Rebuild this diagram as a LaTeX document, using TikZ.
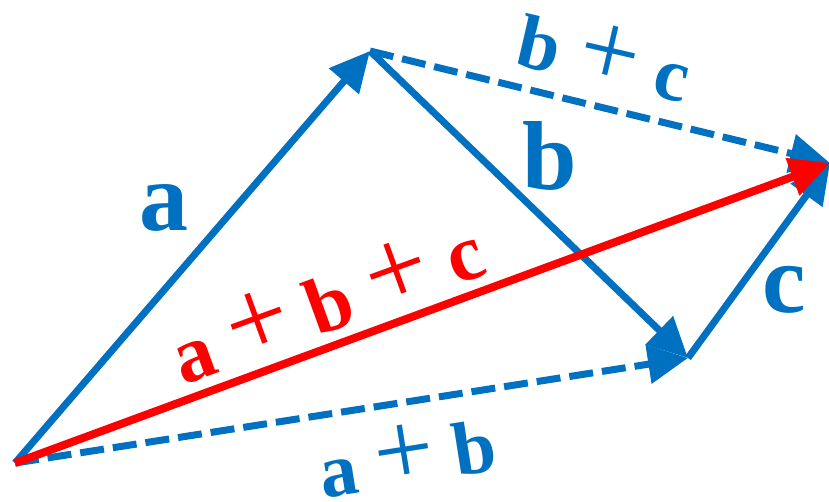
\documentclass[tikz,border=0pt]{standalone}
\usepackage{fontspec}
\setmainfont{Liberation Serif}
\usetikzlibrary{arrows.meta}
\definecolor{vecblue}{RGB}{0, 112, 192}
\definecolor{vecred}{RGB}{255, 0, 0}
\newcommand{\vplus}{~\scalebox{1.4}{+}~}

\tikzset{
  vec/.style={line width=7pt, draw=vecblue, -{Triangle[length=40pt, width=38pt]}},
  sumvec/.style={vec, dash pattern=on 24pt off 9pt},
  redvec/.style={vec, draw=vecred, line width=8pt},
  veclabel/.style={text=vecblue, font=\fontsize{98}{98}\selectfont\bfseries},
  sumlabel/.style={text=vecblue, font=\fontsize{76}{76}\selectfont}
}

\begin{document}
\begin{tikzpicture}[x=1pt, y=-1pt]
                    \useasboundingbox (0,0) rectangle (829,501);
                    % Points
                    \coordinate (O) at (15,463);
                    \coordinate (A) at (370,51);
                    \coordinate (B) at (688,358);
                    \coordinate (C) at (830,163);
                    
                    % Sums (dashed)
                    \draw[sumvec] (O) -- (B);
                    \draw[sumvec] (A) -- (C);
                    
                    % Single vectors
                    \draw[vec] (O) -- (A);
                    \draw[vec] (A) -- (B);
                    \draw[vec] (B) -- (C);
                    
                    % Total
                    \draw[redvec] (O) -- (C);
                    
                    % Labels
                    \node[veclabel] (la) at (164,208) {a};
                    \node[veclabel] (lb) at (550,156) {b};
                    \node[veclabel] (lc) at (784,290) {c};
                    \node[sumlabel, rotate=-13] (lbc) at (605,55) {\textbf{b}\vplus\textbf{c}};
                    \node[sumlabel, rotate=9] (lab) at (407,455) {\textbf{a}\vplus\textbf{b}};
                    \node[sumlabel, text=vecred, font=\fontsize{80}{80}\selectfont, rotate=20] (labc) at (326,300) {\textbf{a}\vplus\textbf{b}\vplus\textbf{c}};
                \end{tikzpicture}
\end{document}
